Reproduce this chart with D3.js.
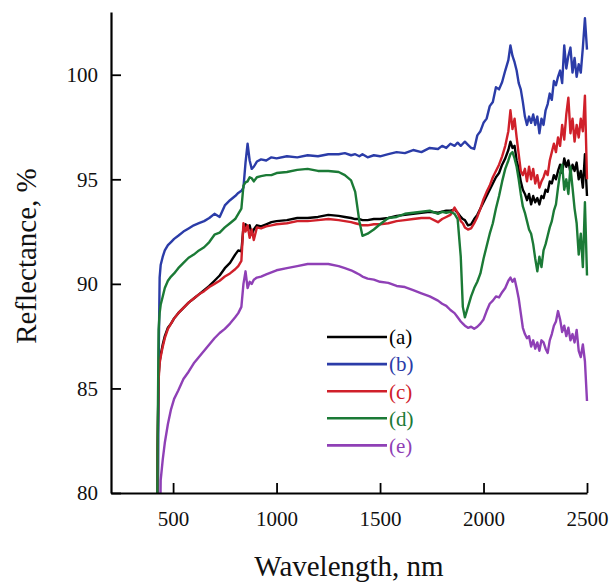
<!DOCTYPE html>
<html>
<head>
<meta charset="utf-8">
<script src="https://cdn.jsdelivr.net/npm/d3@7"></script>
<style>
  body { margin: 0; background: #fff; }
  svg text { font-family: "Liberation Serif", "Times New Roman", serif; }
</style>
</head>
<body>
<div id="chart"></div>
<script>
// wavelength grid (nm), shared by all five spectra
let wavelengths = [420, 425, 430, 435, 440, 450, 460, 475, 490, 505, 525, 550, 575, 600, 625, 650, 675, 700, 725, 750, 775, 800, 815, 830, 840, 850, 860, 870, 880, 890, 905, 925, 950, 975, 1000, 1050, 1100, 1150, 1200, 1250, 1300, 1330, 1360, 1380, 1400, 1415, 1440, 1470, 1500, 1540, 1580, 1620, 1660, 1700, 1740, 1780, 1800, 1820, 1840, 1860, 1875, 1890, 1900, 1910, 1925, 1940, 1955, 1970, 1985, 2000, 2015, 2030, 2045, 2060, 2075, 2090, 2105, 2120, 2130, 2140, 2150, 2160, 2170, 2180, 2190, 2200, 2210, 2220, 2230, 2240, 2250, 2260, 2270, 2280, 2290, 2300, 2310, 2320, 2330, 2340, 2350, 2360, 2370, 2380, 2390, 2400, 2410, 2420, 2430, 2440, 2450, 2460, 2470, 2480, 2490, 2500];

let seriesA = [72, 82, 85.6, 86.3, 86.6, 87.1, 87.5, 87.9, 88.1, 88.35, 88.6, 88.85, 89.1, 89.3, 89.5, 89.7, 89.9, 90.15, 90.4, 90.75, 91.0, 91.4, 91.6, 91.55, 92.7, 92.85, 92.6, 92.8, 92.35, 92.6, 92.8, 92.75, 92.85, 92.95, 93.0, 93.05, 93.15, 93.15, 93.2, 93.3, 93.25, 93.2, 93.15, 93.1, 93.1, 93.05, 93.05, 93.1, 93.1, 93.15, 93.25, 93.3, 93.35, 93.4, 93.45, 93.4, 93.45, 93.5, 93.5, 93.55, 93.4, 93.2, 93.1, 93.05, 92.8, 92.85, 93.1, 93.3, 93.6, 93.9, 94.2, 94.5, 94.8, 95.1, 95.3, 95.7, 96.0, 96.4, 96.8, 96.5, 96.6, 95.9, 95.5, 94.9, 94.5, 94.3, 94.0, 94.3, 93.8, 94.2, 93.9, 94.1, 93.8, 94.2, 94.1, 94.5, 94.4, 94.9, 94.8, 95.2, 95.0, 95.4, 95.7, 95.3, 96.0, 95.6, 95.9, 95.3, 95.7, 95.4, 95.8, 95.0, 95.4, 94.6, 96.2, 94.2];

let seriesB = [70, 75, 86, 90.3, 90.9, 91.3, 91.6, 91.85, 92.0, 92.15, 92.3, 92.5, 92.65, 92.8, 92.9, 93.0, 93.15, 93.35, 93.2, 93.75, 94.0, 94.2, 94.35, 94.45, 94.6, 95.8, 96.7, 95.9, 95.5, 95.6, 95.85, 95.95, 95.9, 96.05, 96.0, 96.1, 96.05, 96.15, 96.1, 96.2, 96.2, 96.25, 96.15, 96.2, 96.1, 96.2, 96.05, 96.15, 96.1, 96.2, 96.3, 96.25, 96.4, 96.3, 96.5, 96.45, 96.6, 96.5, 96.7, 96.6, 96.75, 96.6, 96.7, 96.8, 96.65, 96.5, 96.45, 97.1, 97.3, 97.7, 97.9, 98.5, 98.7, 99.4, 99.3, 99.65, 100.2, 100.7, 101.4, 100.9, 100.6, 100.2, 99.6, 99.3, 98.7, 98.0, 97.6, 98.0, 97.7, 98.1, 97.6, 98.0, 97.2, 97.9, 97.6, 98.3, 98.6, 99.1, 98.8, 99.7, 99.5, 99.9, 100.2, 99.6, 101.4, 100.3, 100.9, 101.3, 100.1, 100.8, 99.9, 100.5, 100.1, 101.3, 102.7, 101.2];

let seriesC = [72, 82, 85.4, 86.2, 86.5, 87.0, 87.4, 87.85, 88.1, 88.35, 88.6, 88.85, 89.1, 89.3, 89.5, 89.65, 89.85, 90.0, 90.15, 90.35, 90.5, 90.7, 90.85, 91.1, 92.9, 92.5, 92.8, 92.2, 92.6, 92.1, 92.7, 92.65, 92.75, 92.8, 92.85, 92.9, 93.0, 93.0, 93.05, 93.1, 93.05, 93.0, 92.95, 92.9, 92.85, 92.8, 92.8, 92.85, 92.85, 92.9, 93.0, 93.05, 93.1, 93.15, 93.15, 92.95, 93.1, 93.2, 93.3, 93.65, 93.4, 93.0, 92.9, 92.7, 92.6, 92.65, 92.9, 93.2, 93.6, 94.05, 94.4, 94.7, 95.1, 95.4, 95.7, 96.1, 96.6, 97.3, 98.3, 97.4, 97.9, 97.0, 96.2, 95.4, 95.2, 95.5, 94.9, 95.6, 95.0, 95.5, 94.8, 95.2, 94.6, 94.9, 95.1, 95.4, 95.2, 95.9, 96.3, 96.7, 96.3, 97.0, 96.6, 97.6, 96.9, 98.1, 98.9, 97.2, 97.9, 96.8, 97.6, 97.0, 97.9, 97.3, 99.0, 95.0];

let seriesD = [72, 82, 87.8, 88.6, 89.0, 89.4, 89.8, 90.15, 90.35, 90.5, 90.75, 91.0, 91.25, 91.4, 91.6, 91.75, 92.0, 92.35, 92.45, 92.7, 92.9, 93.1, 93.35, 93.6, 94.7, 94.85, 94.9, 95.1, 95.05, 94.9, 95.1, 95.15, 95.2, 95.2, 95.3, 95.35, 95.45, 95.5, 95.4, 95.4, 95.35, 95.2, 94.95, 94.4, 93.0, 92.3, 92.4, 92.6, 92.85, 93.15, 93.2, 93.35, 93.4, 93.45, 93.5, 93.35, 93.45, 93.4, 93.45, 93.35, 93.1, 91.3, 88.9, 88.4, 88.9, 89.4, 89.8, 90.1, 90.5, 91.2, 91.8, 92.4, 92.9, 93.6, 94.2, 94.9, 95.5, 95.9, 96.2, 96.3, 96.0, 95.6, 95.0, 94.3, 93.7, 93.4, 93.0, 92.6, 92.4, 91.9, 91.2, 90.6, 91.3, 90.8, 91.6, 91.9, 92.3, 92.7, 93.0, 93.5, 93.8, 94.6, 95.3, 95.7, 94.5, 95.0, 94.3, 95.6, 94.6, 93.6, 92.9, 91.4, 92.4, 90.8, 93.9, 90.4];

let seriesE = [62, 66, 70, 76, 80.6, 81.6, 82.4, 83.3, 84.0, 84.5, 84.9, 85.45, 85.8, 86.2, 86.5, 86.8, 87.1, 87.4, 87.65, 87.85, 88.1, 88.4, 88.6, 88.9, 90.0, 90.6, 89.8, 90.1, 90.0, 90.2, 90.3, 90.35, 90.45, 90.55, 90.65, 90.75, 90.85, 90.95, 90.95, 90.95, 90.85, 90.75, 90.65, 90.55, 90.45, 90.35, 90.25, 90.2, 90.1, 90.05, 89.9, 89.85, 89.7, 89.55, 89.4, 89.2, 89.05, 88.95, 88.75, 88.6, 88.4, 88.2, 88.1, 88.0, 87.9, 87.95, 87.85, 87.95, 88.1, 88.3, 88.7, 89.05, 89.2, 89.4, 89.35, 89.6, 89.8, 90.15, 90.3, 90.1, 90.25, 89.8, 89.3, 88.6, 87.9, 87.6, 87.4, 87.5, 87.0, 87.3, 86.9, 87.2, 86.8, 87.3, 87.2, 86.9, 86.7, 87.3, 87.6, 88.0, 88.2, 88.7, 88.3, 87.7, 88.0, 87.5, 87.9, 87.3, 87.6, 87.2, 87.8, 86.8, 86.5, 87.1, 86.3, 84.4];

let labels = ['(a)', '(b)', '(c)', '(d)', '(e)'];
let colors = ['#000000', '#2b3ca8', '#d0202a', '#1b7a36', '#8f40b6'];
let xTicks = [500, 1000, 1500, 2000, 2500];
let yTicks = [80, 85, 90, 95, 100];

let width = 615,
    height = 583,
    margins = { top: 12, right: 28, bottom: 90, left: 111 };

let series = [seriesA, seriesB, seriesC, seriesD, seriesE];

let $svg = d3.select('#chart').append('svg')
  .attr('width', width)
  .attr('height', height);

let x = d3.scaleLinear()
  .domain([200, 2500])
  .range([margins.left, width - margins.right]);

let y = d3.scaleLinear()
  .domain([80, 103])
  .range([height - margins.bottom, margins.top]);

$svg.append('clipPath')
  .attr('id', 'plot-clip')
  .append('rect')
  .attr('x', margins.left)
  .attr('y', 0)
  .attr('width', width - margins.left)
  .attr('height', height - margins.bottom);

let line = d3.line()
  .x((d, i) => x(wavelengths[i]))
  .y(d => y(d));

$svg.append('g')
  .attr('clip-path', 'url(#plot-clip)')
  .selectAll('.spectrum')
  .data(series)
  .enter()
  .append('path')
  .classed('spectrum', true)
  .attr('d', line)
  .style('fill', 'none')
  .style('stroke', (d, i) => colors[i])
  .style('stroke-width', 2.4)
  .style('stroke-linejoin', 'round');

// axes, ticks point inward
let $xAxis = $svg.append('g')
  .attr('transform', `translate(0,${height - margins.bottom})`)
  .call(d3.axisBottom(x).tickValues(xTicks).tickFormat(d3.format('d'))
    .tickSizeInner(-10).tickSizeOuter(0).tickPadding(18));

let $yAxis = $svg.append('g')
  .attr('transform', `translate(${margins.left},0)`)
  .call(d3.axisLeft(y).tickValues(yTicks).tickFormat(d3.format('d'))
    .tickSizeInner(-10).tickSizeOuter(0).tickPadding(13));

[$xAxis, $yAxis].forEach($a => {
  $a.select('.domain').style('stroke', '#000').style('stroke-width', 2.2);
  $a.selectAll('.tick line').style('stroke', '#000').style('stroke-width', 1.8);
  $a.selectAll('.tick text')
    .style('font-size', '21px')
    .style('font-family', '"Liberation Serif", serif')
    .style('fill', '#111');
});

$svg.append('text')
  .attr('x', 349)
  .attr('y', 576)
  .attr('text-anchor', 'middle')
  .style('font-size', '29px')
  .style('fill', '#111')
  .text('Wavelength, nm');

$svg.append('text')
  .attr('transform', 'translate(36,256) rotate(-90)')
  .attr('text-anchor', 'middle')
  .style('font-size', '29px')
  .style('fill', '#111')
  .text('Reflectance, %');

// legend
let $legend = $svg.append('g').attr('transform', 'translate(327,337)');

let $items = $legend.selectAll('.legend-item')
  .data(labels)
  .enter()
  .append('g')
  .classed('legend-item', true)
  .attr('transform', (d, i) => `translate(0,${i * 27.1})`);

$items.append('line')
  .attr('x1', 0)
  .attr('x2', 60)
  .style('stroke', (d, i) => colors[i])
  .style('stroke-width', 2.6);

$items.append('text')
  .attr('x', 62)
  .attr('dy', '0.35em')
  .style('font-size', '21px')
  .style('fill', (d, i) => colors[i])
  .text(d => d);
</script>
</body>
</html>
